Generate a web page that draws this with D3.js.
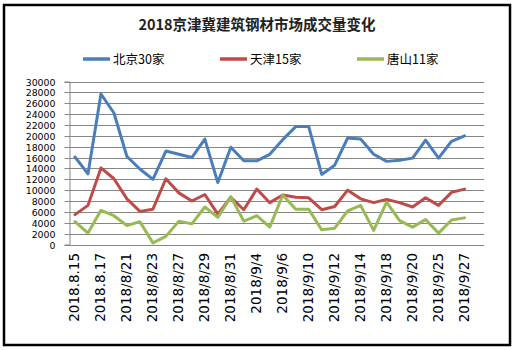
<!DOCTYPE html>
<html>
<head>
<meta charset="utf-8">
<script src="https://cdn.jsdelivr.net/npm/d3@7"></script>
<style>
  html, body { margin: 0; padding: 0; background: #fff; }
  svg { display: block; }
</style>
</head>
<body>
<svg id="chart" width="515" height="350"></svg>
<script>
const title = "2018京津冀建筑钢材市场成交量变化";
const categories = ["2018.8.15","2018.8.16","2018.8.17","2018/8/20","2018/8/21","2018/8/22","2018/8/23","2018/8/24",
  "2018/8/27","2018/8/28","2018/8/29","2018/8/30","2018/8/31","2018/9/3","2018/9/4","2018/9/5","2018/9/6","2018/9/7",
  "2018/9/10","2018/9/11","2018/9/12","2018/9/13","2018/9/14","2018/9/17","2018/9/18","2018/9/19","2018/9/20",
  "2018/9/21","2018/9/25","2018/9/26","2018/9/27"];
const seriesNames = ["北京30家", "天津15家", "唐山11家"];
const beijing = [16100,13000,27700,24200,16200,13900,12000,17200,16600,16000,19400,11400,17900,15400,15400,16600,
  19300,21700,21700,12900,14600,19600,19400,16600,15300,15500,15900,19200,15900,19000,20000];
const tianjin = [5500,7200,14100,12100,8400,6100,6500,12100,9500,8000,9200,5600,8700,6400,10200,7700,
  9100,8700,8600,6400,7000,10000,8400,7700,8300,7700,6900,8600,7200,9600,10200];
const tangshan = [4200,2100,6300,5300,3500,4200,300,1500,4300,3800,6900,5000,8800,4300,5300,3200,
  9100,6500,6500,2700,3000,6200,7200,2600,7800,4400,3200,4600,2100,4500,4900];
const yTicks = [0,2000,4000,6000,8000,10000,12000,14000,16000,18000,20000,22000,24000,26000,28000,30000];
const colors = ["#4A7EBB", "#BE4B48", "#98B954"];

const svg = d3.select("#chart");
const plot = { left: 68.5, right: 484, top: 81.5, bottom: 244.5 };

// frame
svg.append("rect").attr("x", 4).attr("y", 5).attr("width", 506).attr("height", 340)
  .attr("fill", "#fff").attr("stroke", "#000").attr("stroke-width", 2.5);

// title
svg.append("text").attr("x", 257).attr("y", 30).attr("text-anchor", "middle")
  .attr("font-family", "'Noto Sans CJK SC', sans-serif").attr("font-weight", "bold")
  .attr("font-size", 14.5).attr("fill", "#222").text(title);

// scales
const x = d3.scaleBand().domain(d3.range(categories.length + 1)).range([plot.left, plot.right]);
const cx = i => x(i) + x.bandwidth() / 2;
const y = d3.scaleLinear().domain([0, 30000]).range([plot.bottom, plot.top]);

// gridlines
svg.append("g").selectAll("line").data(yTicks).join("line")
  .attr("x1", plot.left).attr("x2", plot.right)
  .attr("y1", d => Math.round(y(d)) + 0.5).attr("y2", d => Math.round(y(d)) + 0.5)
  .attr("stroke", "#868686").attr("stroke-width", 1);

// y axis
const yAxis = d3.axisLeft(y).tickValues(yTicks).tickSize(5).tickPadding(9).tickFormat(d3.format("d"));
const gy = svg.append("g").attr("transform", `translate(${Math.round(plot.left) + 0.5},0)`).call(yAxis);
gy.select(".domain").attr("stroke", "#868686");
gy.selectAll(".tick line").attr("stroke", "#868686");
gy.selectAll(".tick").attr("transform", d => `translate(0,${Math.round(y(d)) + 0.5})`);
gy.selectAll("text").attr("font-family", "'DejaVu Sans', sans-serif").attr("font-size", 9.4).attr("fill", "#000");

// x labels (every other category)
svg.append("g").selectAll("text").data(categories.map((c, i) => ({ c, i })).filter(d => d.i % 2 === 0)).join("text")
  .attr("transform", d => `translate(${cx(d.i) + 4.5},253) rotate(-90)`)
  .attr("text-anchor", "end")
  .attr("font-family", "'DejaVu Sans', sans-serif").attr("font-size", 13.5).attr("fill", "#000")
  .text(d => d.c);

// lines
const allSeries = [beijing, tianjin, tangshan];
const line = d3.line().x((d, i) => cx(i)).y(d => y(d));
svg.append("g").selectAll("path").data(allSeries).join("path")
  .attr("d", d => line(d)).attr("fill", "none")
  .attr("stroke", (d, i) => colors[i]).attr("stroke-width", 3)
  .attr("stroke-linejoin", "round").attr("stroke-linecap", "round");

// legend
const legendX = [83, 220, 357];
const lg = svg.append("g").selectAll("g").data(seriesNames).join("g")
  .attr("transform", (d, i) => `translate(${legendX[i]},59)`);
lg.append("line").attr("x1", 0).attr("x2", 27).attr("y1", 0).attr("y2", 0)
  .attr("stroke", (d, i) => colors[i]).attr("stroke-width", 3.5);
lg.append("text").attr("x", 30).attr("y", 4.5)
  .attr("font-family", "'Noto Sans CJK SC', sans-serif").attr("font-size", 12.5).attr("fill", "#000")
  .text(d => d);
</script>
</body>
</html>
